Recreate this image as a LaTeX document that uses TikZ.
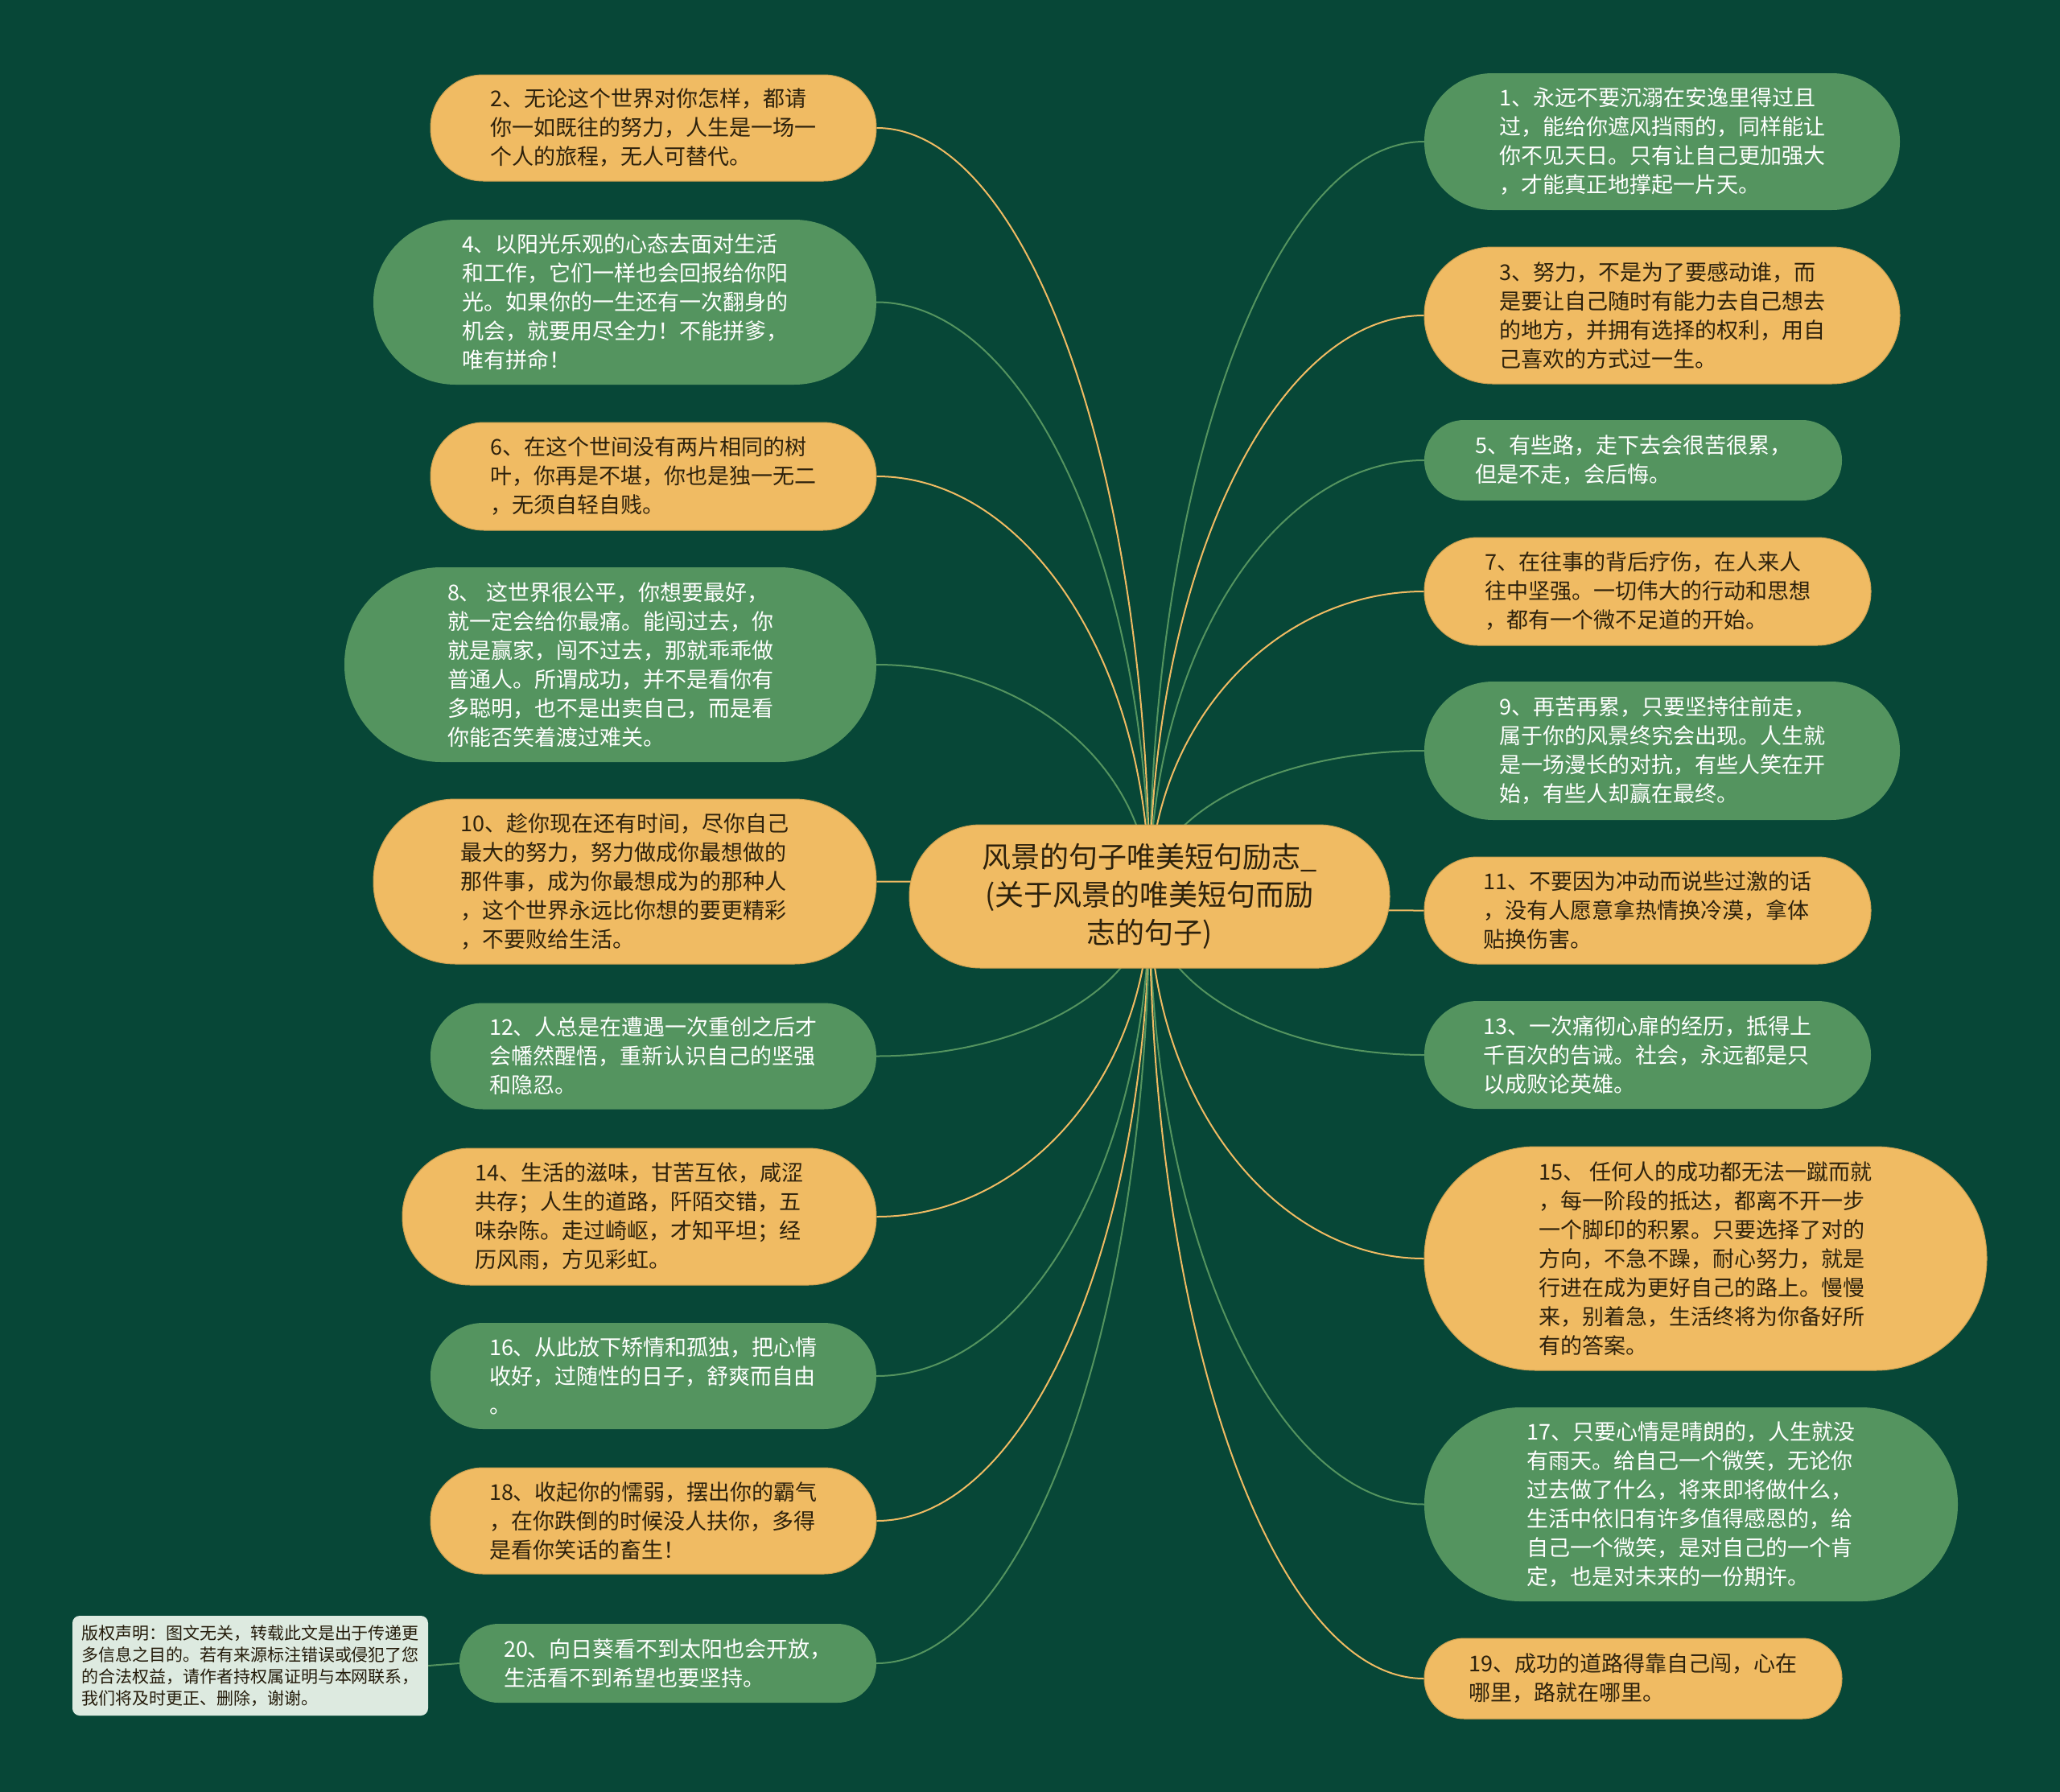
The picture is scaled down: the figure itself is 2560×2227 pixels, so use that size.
\documentclass[tikz,border=0pt]{standalone}
\usepackage{fontspec}
\newfontfamily\cjk{Noto Sans CJK SC}
\setmainfont{Noto Sans CJK SC}
\usetikzlibrary{calc}
\definecolor{cBg}{RGB}{7,71,55}
\definecolor{cG}{RGB}{84,148,95}
\definecolor{cY}{RGB}{240,187,99}
\definecolor{cYd}{RGB}{205,160,80}
\definecolor{cT}{RGB}{45,33,12}
\definecolor{cCr}{RGB}{221,234,224}
\pgfdeclarelayer{background}
\pgfsetlayers{background,main}
\tikzset{
  basetext/.style={font={\cjk\fontsize{27}{36}\selectfont}, align=left, inner sep=0pt},
  ynode/.style={basetext, fill=cY, draw=cYd, line width=1pt, text=cT},
  gnode/.style={basetext, fill=cG, text=white},
  pill/.style n args={3}{minimum width=#1pt, minimum height=#2pt, rounded corners=#3pt},
  conn/.style={to path={.. controls ($(\tikztostart)!0.5523!(\tikztostart|-\tikztotarget)$) and ($(\tikztotarget)!0.5523!(\tikztostart|-\tikztotarget)$) .. (\tikztotarget)}},
  ylink/.style={conn, draw=cY, line width=2pt},
  glink/.style={conn, draw=cG, line width=2pt},
}
\begin{document}
\begin{tikzpicture}[x=1pt,y=-1pt]
\begin{pgfonlayer}{background}
\fill[cBg] (0,0) rectangle (2560,2227);
\end{pgfonlayer}
\useasboundingbox (0,0) rectangle (2560,2227);

% centre
\node[ynode, align=center, font={\cjk\fontsize{36}{47}\selectfont}, pill={597}{178}{88.5}] (c) at (1428.5,1114)
  {风景的句子唯美短句励志\_\\(关于风景的唯美短句而励\\志的句子)};

% left column
\node[ynode, pill={554}{132}{65.5}] (n2) at (812,159)
  {2、无论这个世界对你怎样，都请\\你一如既往的努力，人生是一场一\\个人的旅程，无人可替代。};
\node[gnode, pill={625}{205}{102}] (n4) at (776.5,375.5)
  {4、以阳光乐观的心态去面对生活\\和工作，它们一样也会回报给你阳\\光。如果你的一生还有一次翻身的\\机会，就要用尽全力！不能拼爹，\\唯有拼命！};
\node[ynode, pill={554}{134}{66.5}] (n6) at (812,592)
  {6、在这个世间没有两片相同的树\\叶，你再是不堪，你也是独一无二\\，无须自轻自贱。};
\node[gnode, pill={661}{242}{120.5}] (n8) at (758.5,826)
  {8、 这世界很公平，你想要最好，\\就一定会给你最痛。能闯过去，你\\就是赢家，闯不过去，那就乖乖做\\普通人。所谓成功，并不是看你有\\多聪明，也不是出卖自己，而是看\\你能否笑着渡过难关。};
\node[ynode, pill={625}{205}{102}] (n10) at (776.5,1095.5)
  {10、趁你现在还有时间，尽你自己\\最大的努力，努力做成你最想做的\\那件事，成为你最想成为的那种人\\，这个世界永远比你想的要更精彩\\，不要败给生活。};
\node[gnode, pill={554}{132}{65.5}] (n12) at (812,1312.5)
  {12、人总是在遭遇一次重创之后才\\会幡然醒悟，重新认识自己的坚强\\和隐忍。};
\node[ynode, pill={589}{170}{84.5}] (n14) at (794.5,1512)
  {14、生活的滋味，甘苦互依，咸涩\\共存；人生的道路，阡陌交错，五\\味杂陈。走过崎岖，才知平坦；经\\历风雨，方见彩虹。};
\node[gnode, pill={554}{132}{65.5}] (n16) at (812,1710)
  {16、从此放下矫情和孤独，把心情\\收好，过随性的日子，舒爽而自由\\。};
\node[ynode, pill={554}{132}{65.5}] (n18) at (812,1890)
  {18、收起你的懦弱，摆出你的霸气\\，在你跌倒的时候没人扶你，多得\\是看你笑话的畜生！};
\node[gnode, pill={518}{98}{48.5}] (n20) at (830,2067)
  {20、向日葵看不到太阳也会开放，\\生活看不到希望也要坚持。};

% right column
\node[gnode, pill={591}{170}{84.5}] (n1) at (2065.5,176)
  {1、永远不要沉溺在安逸里得过且\\过，能给你遮风挡雨的，同样能让\\你不见天日。只有让自己更加强大\\，才能真正地撑起一片天。};
\node[ynode, pill={591}{170}{84.5}] (n3) at (2065.5,392)
  {3、努力，不是为了要感动谁，而\\是要让自己随时有能力去自己想去\\的地方，并拥有选择的权利，用自\\己喜欢的方式过一生。};
\node[gnode, pill={519}{100}{49.5}] (n5) at (2029.5,572)
  {5、有些路，走下去会很苦很累，\\但是不走，会后悔。};
\node[ynode, pill={555}{134}{66.5}] (n7) at (2047.5,735)
  {7、在往事的背后疗伤，在人来人\\往中坚强。一切伟大的行动和思想\\，都有一个微不足道的开始。};
\node[gnode, pill={591}{172}{85.5}] (n9) at (2065.5,933)
  {9、再苦再累，只要坚持往前走，\\属于你的风景终究会出现。人生就\\是一场漫长的对抗，有些人笑在开\\始，有些人却赢在最终。};
\node[ynode, pill={555}{133}{66}] (n11) at (2047.5,1131.5)
  {11、不要因为冲动而说些过激的话\\，没有人愿意拿热情换冷漠，拿体\\贴换伤害。};
\node[gnode, pill={555}{134}{66.5}] (n13) at (2047.5,1311)
  {13、一次痛彻心扉的经历，抵得上\\千百次的告诫。社会，永远都是只\\以成败论英雄。};
\node[ynode, pill={699}{278}{138.5}] (n15) at (2119.5,1564)
  {15、 任何人的成功都无法一蹴而就\\，每一阶段的抵达，都离不开一步\\一个脚印的积累。只要选择了对的\\方向，不急不躁，耐心努力，就是\\行进在成为更好自己的路上。慢慢\\来，别着急，生活终将为你备好所\\有的答案。};
\node[gnode, pill={663}{241}{120}] (n17) at (2101.5,1869.5)
  {17、只要心情是晴朗的，人生就没\\有雨天。给自己一个微笑，无论你\\过去做了什么，将来即将做什么，\\生活中依旧有许多值得感恩的，给\\自己一个微笑，是对自己的一个肯\\定，也是对未来的一份期许。};
\node[ynode, pill={519}{100}{49.5}] (n19) at (2029.5,2086)
  {19、成功的道路得靠自己闯，心在\\哪里，路就在哪里。};

% copyright note
\node[basetext, fill=cCr, text=cT!80!black, font={\cjk\fontsize{21}{27}\selectfont},
      minimum width=442pt, minimum height=124pt, rounded corners=9pt] (cr) at (311,2070)
  {版权声明：图文无关，转载此文是出于传递更\\多信息之目的。若有来源标注错误或侵犯了您\\的合法权益，请作者持权属证明与本网联系，\\我们将及时更正、删除，谢谢。};

\begin{pgfonlayer}{background}
\draw[ylink] (c.center) to (n2.east);
\draw[glink] (c.center) to (n4.east);
\draw[ylink] (c.center) to (n6.east);
\draw[glink] (c.center) to (n8.east);
\draw[ylink] (c.center) to (n10.east);
\draw[glink] (c.center) to (n12.east);
\draw[ylink] (c.center) to (n14.east);
\draw[glink] (c.center) to (n16.east);
\draw[ylink] (c.center) to (n18.east);
\draw[glink] (c.center) to (n20.east);
\draw[glink] (c.center) to (n1.west);
\draw[ylink] (c.center) to (n3.west);
\draw[glink] (c.center) to (n5.west);
\draw[ylink] (c.center) to (n7.west);
\draw[glink] (c.center) to (n9.west);
\draw[ylink] (c.center) to (n11.west);
\draw[glink] (c.center) to (n13.west);
\draw[ylink] (c.center) to (n15.west);
\draw[glink] (c.center) to (n17.west);
\draw[ylink] (c.center) to (n19.west);
\draw[draw=cG, line width=2pt] (cr.east) -- (n20.west);
\end{pgfonlayer}
\end{tikzpicture}
\end{document}
